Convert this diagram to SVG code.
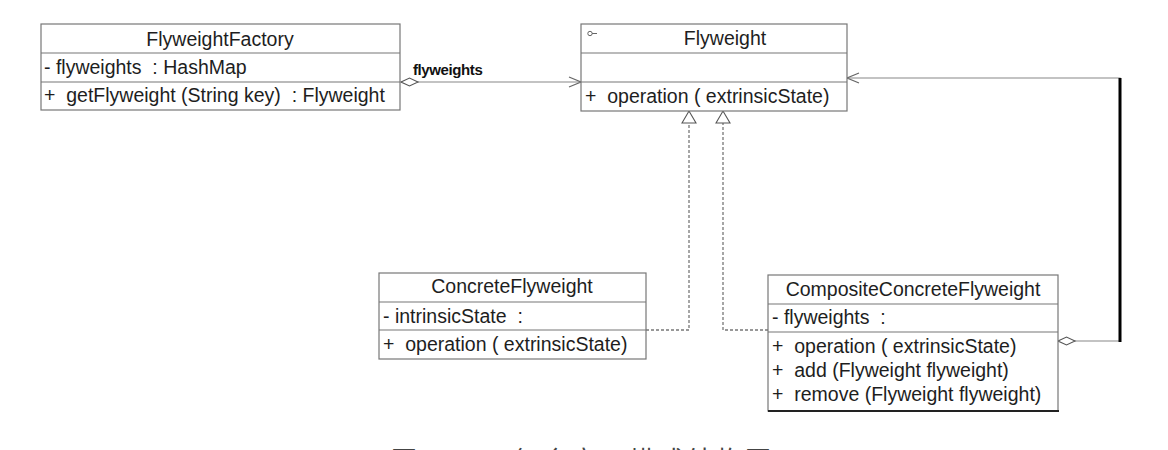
<svg xmlns="http://www.w3.org/2000/svg" width="1168" height="450" viewBox="0 0 1168 450">
<style>
.box{fill:#fff;stroke:#777;stroke-width:1.2}
.div{stroke:#777;stroke-width:1.2}
.t{font-family:"Liberation Sans",Arial,sans-serif;font-size:19.5px;fill:#1e1e1e;white-space:pre}
.c{text-anchor:middle}
.ln{fill:none;stroke:#888;stroke-width:1.2}
.dash{fill:none;stroke:#777;stroke-width:1.3;stroke-dasharray:3 2}
.lbl{font-family:"Liberation Sans",Arial,sans-serif;font-size:15px;font-weight:bold;fill:#111;letter-spacing:-0.4px}
.cap{font-family:"Noto Sans CJK SC","Noto Sans",sans-serif;font-size:26px;fill:#444;letter-spacing:3px}
</style>
<defs>
<marker id="open" markerUnits="userSpaceOnUse" markerWidth="14" markerHeight="12" viewBox="0 0 14 12" refX="13" refY="6" orient="auto">
<path d="M1,1 L13,6 L1,11" fill="none" stroke="#666" stroke-width="1.2"/>
</marker>
<marker id="dia" markerUnits="userSpaceOnUse" markerWidth="20" markerHeight="12" viewBox="0 0 20 12" refX="1" refY="6" orient="auto">
<path d="M1,6 L9.5,2 L18,6 L9.5,10 Z" fill="#fff" stroke="#555" stroke-width="1.1"/>
</marker>
<marker id="tri" markerUnits="userSpaceOnUse" markerWidth="16" markerHeight="16" viewBox="0 0 16 16" refX="14" refY="8" orient="auto">
<path d="M2,1 L14,8 L2,15 Z" fill="#fff" stroke="#555" stroke-width="1.1"/>
</marker>
</defs>

<g id="connectors">
<path class="ln" d="M401,82 H581" marker-start="url(#dia)" marker-end="url(#open)"/>
<path class="ln" d="M1058,341 H1120 V78 H847" marker-start="url(#dia)" marker-end="url(#open)"/>
<line x1="1120" y1="78" x2="1120" y2="342" stroke="#000" stroke-width="3"/>
<path class="dash" d="M646,330 H689 V111" marker-end="url(#tri)"/>
<path class="dash" d="M768,330 H723 V111" marker-end="url(#tri)"/>
<text class="lbl" x="413" y="75">flyweights</text>
</g>

<g id="FlyweightFactory">
<rect class="box" x="41" y="24" width="359" height="86"/>
<line class="div" x1="41" y1="53" x2="400" y2="53"/>
<line class="div" x1="41" y1="82" x2="400" y2="82"/>
<text class="t c" x="220" y="46">FlyweightFactory</text>
<text class="t" x="44" y="74" xml:space="preserve">- flyweights  : HashMap</text>
<text class="t" x="44" y="102" xml:space="preserve">+  getFlyweight (String key)  : Flyweight</text>
</g>

<g id="Flyweight">
<rect class="box" x="581" y="24" width="266" height="87"/>
<line class="div" x1="581" y1="53" x2="847" y2="53"/>
<line class="div" x1="581" y1="82" x2="847" y2="82"/>
<circle cx="590" cy="33.5" r="2.2" fill="#fff" stroke="#555" stroke-width="0.9"/>
<line x1="592.2" y1="33.5" x2="597" y2="33.5" stroke="#555" stroke-width="0.9"/>
<text class="t c" x="725" y="45">Flyweight</text>
<text class="t" x="585" y="103" xml:space="preserve">+  operation ( extrinsicState)</text>
</g>

<g id="ConcreteFlyweight">
<rect class="box" x="379" y="273" width="267" height="86"/>
<line class="div" x1="379" y1="302" x2="646" y2="302"/>
<line class="div" x1="379" y1="330" x2="646" y2="330"/>
<text class="t c" x="512" y="293">ConcreteFlyweight</text>
<text class="t" x="383" y="323" xml:space="preserve">- intrinsicState  :</text>
<text class="t" x="383" y="351" xml:space="preserve">+  operation ( extrinsicState)</text>
</g>

<g id="CompositeConcreteFlyweight">
<rect class="box" x="768" y="275" width="290" height="136"/>
<line class="div" x1="768" y1="304" x2="1058" y2="304"/>
<line class="div" x1="768" y1="332" x2="1058" y2="332"/>
<line x1="768" y1="411" x2="1059" y2="411" stroke="#222" stroke-width="2"/>
<text class="t c" x="913" y="296">CompositeConcreteFlyweight</text>
<text class="t" x="772" y="324" xml:space="preserve">- flyweights  :</text>
<text class="t" x="772" y="353" xml:space="preserve">+  operation ( extrinsicState)</text>
<text class="t" x="772" y="377" xml:space="preserve">+  add (Flyweight flyweight)</text>
<text class="t" x="772" y="401" xml:space="preserve">+  remove (Flyweight flyweight)</text>
</g>

<g id="caption">
<text class="cap" y="470"><tspan x="391">图</tspan><tspan x="428">14-5</tspan><tspan x="513">复合享元模式结构图</tspan></text>
</g>
</svg>
